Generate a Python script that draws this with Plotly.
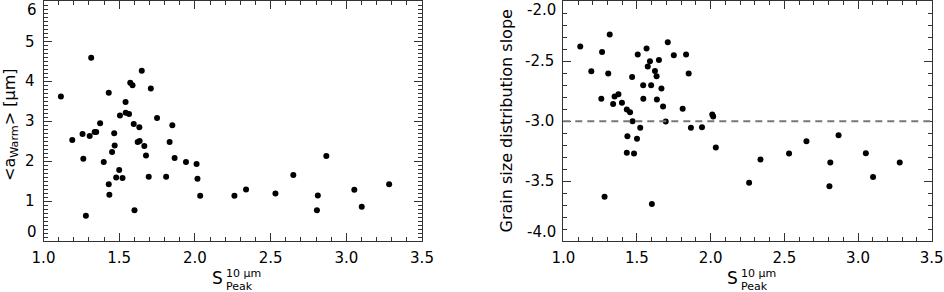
import plotly.graph_objects as go

# Shared x: S_Peak^{10 µm}
s_peak = [1.115, 1.190, 1.258, 1.263, 1.280, 1.305, 1.315, 1.338, 1.348, 1.374,
          1.398, 1.431, 1.431, 1.435, 1.453, 1.467, 1.470, 1.480, 1.500, 1.505,
          1.522, 1.542, 1.543, 1.565, 1.573, 1.588, 1.596, 1.601, 1.622, 1.633,
          1.635, 1.649, 1.666, 1.677, 1.695, 1.709, 1.750, 1.810, 1.833, 1.851,
          1.866, 1.941, 2.011, 2.017, 2.035, 2.261, 2.338, 2.532, 2.650, 2.806,
          2.812, 2.868, 3.053, 3.102, 3.283]

a_warm = [3.62, 2.53, 2.68, 2.06, 0.63, 2.63, 4.59, 2.73, 2.73, 2.95,
          1.98, 3.71, 1.42, 1.16, 2.23, 2.70, 2.39, 1.59, 1.78, 3.14,
          1.58, 3.48, 3.21, 3.18, 3.96, 3.90, 2.93, 0.77, 2.48, 2.85,
          2.50, 4.26, 2.38, 2.14, 1.61, 3.82, 3.08, 1.61, 2.48, 2.90,
          2.08, 1.98, 1.93, 1.56, 1.13, 1.13, 1.29, 1.19, 1.65, 0.77,
          1.14, 2.13, 1.28, 0.86, 1.42]

slope = [-2.378, -2.583, -2.814, -2.422, -3.631, -2.603, -2.278, -2.856, -2.794, -2.775,
         -2.847, -2.903, -3.264, -3.125, -2.925, -2.631, -3.000, -3.269, -3.147, -2.444,
         -3.056, -2.700, -2.814, -2.394, -2.544, -2.500, -2.700, -3.692, -2.581, -2.625,
         -2.819, -2.489, -2.728, -2.878, -3.003, -2.342, -2.450, -2.897, -2.444, -2.603,
         -3.056, -3.050, -2.944, -2.961, -3.219, -3.514, -3.319, -3.269, -3.167, -3.544,
         -3.344, -3.117, -3.267, -3.467, -3.344]

x_ticks = [1.0, 1.5, 2.0, 2.5, 3.0, 3.5]
x_ticktext = ["1.0", "1.5", "2.0", "2.5", "3.0", "3.5"]
y1_ticks = [0, 1, 2, 3, 4, 5, 6]
y1_ticktext = ["0", "1", "2", "3", "4", "5", "6"]
y2_ticks = [-4.0, -3.5, -3.0, -2.5, -2.0]
y2_ticktext = ["-4.0", "-3.5", "-3.0", "-2.5", "-2.0"]
ref_slope = -3.0

W, H = 944, 292
FONT = "DejaVu Sans"
AX = "#333333"

fig = go.Figure()
fig.add_trace(go.Scatter(x=s_peak, y=a_warm, mode="markers",
                         marker=dict(color="black", size=6, line=dict(width=0)),
                         xaxis="x", yaxis="y", showlegend=False))
fig.add_trace(go.Scatter(x=s_peak, y=slope, mode="markers",
                         marker=dict(color="black", size=6, line=dict(width=0)),
                         xaxis="x2", yaxis="y2", showlegend=False))

def px_x(p):
    return p / W

def px_y(p):
    return (H - p) / H

ydom = [px_y(241.0), px_y(1.3)]

common = dict(showline=True, linecolor=AX, linewidth=1, mirror="ticks",
              ticks="inside", ticklen=8, tickwidth=1, tickcolor=AX,
              showgrid=False, zeroline=False, automargin=False,
              tickfont=dict(family=FONT, size=15, color="black"))

fig.update_layout(
    template="none",
    width=W, height=H, margin=dict(l=0, r=0, t=0, b=0, autoexpand=False),
    paper_bgcolor="white", plot_bgcolor="white",
    xaxis=dict(domain=[px_x(43.5), px_x(422.0)], range=[1.0, 3.5], anchor="y",
               tickvals=x_ticks, ticktext=x_ticktext, ticklabelstandoff=3,
               minor=dict(dtick=0.1, tick0=1.0, ticks="inside", ticklen=4, tickcolor=AX),
               **common),
    yaxis=dict(domain=ydom, range=[0, 6], anchor="x",
               tickvals=y1_ticks[1:-1], ticktext=y1_ticktext[1:-1], ticklabelstandoff=5,
               minor=dict(dtick=0.1, tick0=0, ticks="inside", ticklen=4, tickcolor=AX),
               **common),
    xaxis2=dict(domain=[px_x(563.3), px_x(931.7)], range=[1.0, 3.5], anchor="y2",
                tickvals=x_ticks, ticktext=x_ticktext, ticklabelstandoff=3,
                minor=dict(dtick=0.1, tick0=1.0, ticks="inside", ticklen=4, tickcolor=AX),
                **common),
    yaxis2=dict(domain=ydom, range=[-4.0, -2.0], anchor="x2",
                tickvals=y2_ticks[1:-1], ticktext=y2_ticktext[1:-1], ticklabelstandoff=5,
                minor=dict(dtick=0.1, tick0=-4.0, ticks="inside", ticklen=4, tickcolor=AX),
                **common),
)

# reference slope line
fig.add_shape(type="line", xref="x2 domain", yref="y2", x0=0, x1=1,
              y0=ref_slope, y1=ref_slope,
              line=dict(color="#777777", width=2, dash="7px,5px"))

ann = []
tf = dict(family=FONT, size=15, color="black")
# extreme y tick labels (kept inside the frame)
for ax, vals, txt in (("", y1_ticks, y1_ticktext), ("2", y2_ticks, y2_ticktext)):
    xr = "x%s domain" % ax if ax else "x domain"
    yr = "y%s" % ax if ax else "y"
    ann.append(dict(xref=xr, yref=yr, x=0, y=vals[0], text=txt[0], showarrow=False,
                    xanchor="right", yanchor="bottom", xshift=-5, yshift=-2, font=tf))
    ann.append(dict(xref=xr, yref=yr, x=0, y=vals[-1], text=txt[-1], showarrow=False,
                    xanchor="right", yanchor="top", xshift=-5, yshift=2, font=tf))

# x titles: S with superscript 10 µm and subscript Peak
for xr in ("x domain", "x2 domain"):
    ann.append(dict(xref=xr, yref="paper", x=0.5, y=px_y(277.5), text="S",
                    showarrow=False, xanchor="right", yanchor="middle", xshift=-8,
                    font=dict(family=FONT, size=17, color="black")))
    ann.append(dict(xref=xr, yref="paper", x=0.5, y=px_y(273.5), text="10 µm",
                    showarrow=False, xanchor="left", yanchor="middle", xshift=-9,
                    font=dict(family=FONT, size=11, color="black")))
    ann.append(dict(xref=xr, yref="paper", x=0.5, y=px_y(286.0), text="Peak",
                    showarrow=False, xanchor="left", yanchor="middle", xshift=-9,
                    font=dict(family=FONT, size=11, color="black")))

# y titles
ann.append(dict(xref="paper", yref="paper", x=px_x(10), y=px_y(125),
                text="&lt;a<sub>Warm</sub>&gt; [µm]", textangle=-90, showarrow=False,
                xanchor="center", yanchor="middle",
                font=dict(family=FONT, size=16, color="black")))
ann.append(dict(xref="paper", yref="paper", x=px_x(505.5), y=px_y(121),
                text="Grain size distribution slope", textangle=-90, showarrow=False,
                xanchor="center", yanchor="middle",
                font=dict(family=FONT, size=16, color="black")))

fig.update_layout(annotations=ann)
fig.write_html("out.html", config={"displayModeBar": False, "staticPlot": True},
               post_script="document.body.style.margin='0';document.body.style.overflow='hidden';")
